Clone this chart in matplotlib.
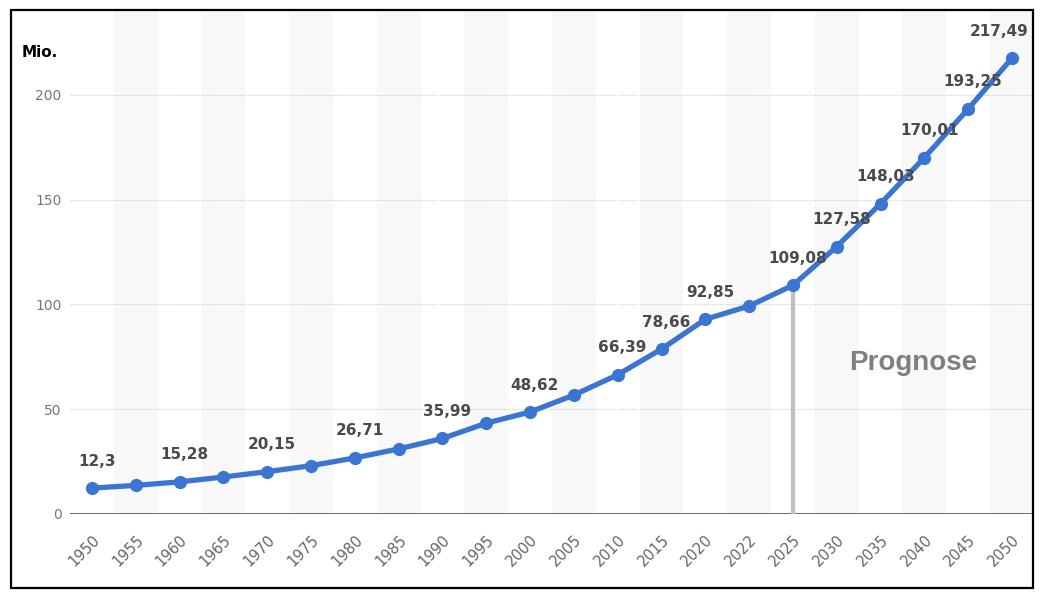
import numpy as np
import matplotlib
matplotlib.use("Agg")
import matplotlib.pyplot as plt
from matplotlib.patches import Rectangle

years = ["1950", "1955", "1960", "1965", "1970", "1975", "1980", "1985", "1990", "1995",
         "2000", "2005", "2010", "2015", "2020", "2022", "2025", "2030", "2035", "2040",
         "2045", "2050"]
values = [12.3, 13.6, 15.28, 17.6, 20.15, 23.0, 26.71, 31.0, 35.99, 43.3,
          48.62, 56.7, 66.39, 78.66, 92.85, 99.2, 109.08, 127.58, 148.03, 170.01,
          193.25, 217.49]
labeled = ["1950", "1960", "1970", "1980", "1990", "2000", "2010", "2015", "2020",
           "2025", "2030", "2035", "2040", "2045", "2050"]
yticks = [0, 50, 100, 150, 200]

blue = "#3b74d2"

fig = plt.figure(figsize=(10.5, 6.06), dpi=100)
ax = fig.add_axes([0.0667, 0.152, 0.918, 0.830])

x = np.arange(len(years))
# alternating background bands
for i in x:
    if i % 2 == 1:
        ax.axvspan(i - 0.5, i + 0.5, color="#f8f8f8", zorder=0, lw=0)

for t in yticks[1:]:
    ax.axhline(t, color="#c8c8c8", lw=0.8, ls=(0, (1, 1.5)), zorder=1)
ax.axhline(0, color="#555555", lw=1.2, zorder=2)

# forecast separator
i25 = years.index("2025")
ax.plot([i25, i25], [0, values[i25]], color="#bfbfbf", lw=3, zorder=2, solid_capstyle="butt")

ax.plot(x, values, color=blue, lw=3.8, marker="o", markersize=8.5, zorder=3)

for i, (yr, v) in enumerate(zip(years, values)):
    if yr in labeled:
        xo = -9 if yr == "2050" else 3.5
        ax.annotate(f"{v:g}".replace(".", ","), (i, v), xytext=(xo, 14),
                    textcoords="offset points", ha="center", va="bottom",
                    fontsize=11, fontweight="bold", color="#4a4a4a", zorder=4)

ax.text(18.75, 72, "Prognose", fontsize=20, fontweight="bold", color="#7f7f7f",
        family="Liberation Sans", ha="center", va="center")

ax.set_xlim(-0.5, len(years) - 0.5)
ax.set_ylim(0, 240)
ax.set_xticks(x)
ax.set_xticklabels(years, rotation=45, ha="right", rotation_mode="anchor",
                   fontsize=10.5, color="#666666")
ax.set_yticks(yticks)
ax.set_yticklabels([str(t) for t in yticks], fontsize=10, color="#777777")
ax.tick_params(axis="both", length=0)
ax.tick_params(axis="x", pad=13)
ax.tick_params(axis="y", pad=6)
for s in ax.spines.values():
    s.set_visible(False)

fig.text(0.021, 0.906, "Mio.", fontsize=11, fontweight="bold", color="black")

# outer frame
fig.patches.append(Rectangle((11 / 1050, 1 - 588 / 606), 1022 / 1050, 578 / 606,
                             transform=fig.transFigure, fill=False, ec="black", lw=1.6))

fig.savefig("out.png", dpi=100)
